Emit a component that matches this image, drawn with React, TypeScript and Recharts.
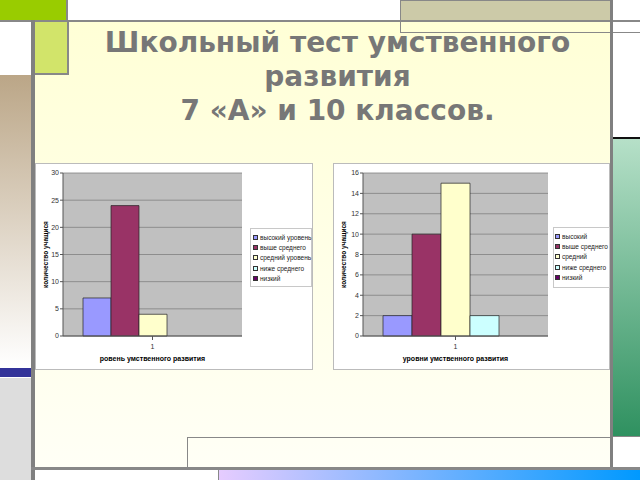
import { BarChart, Bar, XAxis, YAxis, CartesianGrid } from 'recharts'

// 7 «А» class
const levelsA = ['высокий уровень', 'выше среднего', 'средний уровень', 'ниже среднего', 'низкий']
const valuesA = [7, 24, 4, 0, 0]
const ticksA = [0, 5, 10, 15, 20, 25, 30]

// 10 class
const levelsB = ['высокий', 'выше среднего', 'средний', 'ниже среднего', 'низкий']
const valuesB = [2, 10, 15, 2, 0]
const ticksB = [0, 2, 4, 6, 8, 10, 12, 14, 16]

const categories = ['1']
const colors = ['#9999FF', '#993366', '#FFFFCC', '#CCFFFF', '#660066']

const FONT = '"Liberation Sans", Arial, sans-serif'

function toRows(values: number[]) {
  return categories.map((c) => {
    const row: Record<string, string | number> = { name: c }
    values.forEach((v, i) => (row['s' + i] = v))
    return row
  })
}

function LegendBox({ labels, style }: { labels: string[]; style: React.CSSProperties }) {
  return (
    <div
      style={{
        position: 'absolute',
        background: '#fff',
        border: '1px solid #c8c8c8',
        fontFamily: FONT,
        fontSize: 6.5,
        color: '#222',
        padding: '3px 2px',
        boxSizing: 'border-box',
        ...style,
      }}
    >
      {labels.map((l, i) => (
        <div key={l} style={{ display: 'flex', alignItems: 'center', height: 10.4, whiteSpace: 'nowrap' }}>
          <span
            style={{
              display: 'inline-block',
              flexShrink: 0,
              width: 5,
              height: 5,
              boxSizing: 'border-box',
              background: colors[i],
              border: '0.7px solid #333',
              marginRight: 2,
            }}
          />
          {l}
        </div>
      ))}
    </div>
  )
}

function SchoolChart({
  values,
  ticks,
  max,
  xLabel,
  width,
  marginRight,
  yWidth,
}: {
  values: number[]
  ticks: number[]
  max: number
  xLabel: string
  width: number
  marginRight: number
  yWidth: number
}) {
  return (
    <BarChart
      width={width}
      height={207}
      data={toRows(values)}
      margin={{ top: 10, right: marginRight, bottom: 6, left: 0 }}
      barCategoryGap={20}
      barGap={0}
    >
      <CartesianGrid vertical={false} stroke="#808080" fill="#C0C0C0" strokeWidth={0.8} />
      <XAxis
        dataKey="name"
        stroke="#555"
        tickSize={4}
        tickMargin={4}
        height={28}
        tick={{ fontSize: 7, fill: '#333', fontFamily: FONT }}
        label={{
          value: xLabel,
          position: 'insideBottom',
          offset: 3,
          style: { fontSize: 7, fontWeight: 'bold', fill: '#000', fontFamily: FONT },
        }}
      />
      <YAxis
        domain={[0, max]}
        ticks={ticks}
        interval={0}
        width={yWidth}
        stroke="#555"
        tickSize={3}
        tickMargin={1}
        tick={{ fontSize: 7, fill: '#333', fontFamily: FONT }}
        label={{
          value: 'количество учащися',
          angle: -90,
          position: 'insideLeft',
          offset: 11,
          style: { fontSize: 6.5, fontWeight: 'bold', fill: '#000', fontFamily: FONT, textAnchor: 'middle' },
        }}
      />
      {values.map((_, i) => (
        <Bar key={i} dataKey={'s' + i} fill={colors[i]} stroke="#222" strokeWidth={0.7} isAnimationActive={false} />
      ))}
    </BarChart>
  )
}

const abs = (s: React.CSSProperties): React.CSSProperties => ({ position: 'absolute', boxSizing: 'border-box', ...s })

export default function App() {
  return (
    <div style={abs({ left: 0, top: 0, width: 640, height: 480, background: '#fff', overflow: 'hidden' })}>
      {/* panel */}
      <div
        style={abs({
          left: 35,
          top: 22,
          width: 575,
          height: 446,
          background: 'linear-gradient(#FFFFD6, #FFFFF6)',
        })}
      />
      {/* left column */}
      <div style={abs({ left: 0, top: 0, width: 68, height: 21, background: '#99CC00', borderRight: '2px solid #888', borderBottom: '1px solid #888' })} />
      <div style={abs({ left: 0, top: 75, width: 31, height: 292, background: 'linear-gradient(#BBA687, #FFFFFF)' })} />
      <div style={abs({ left: 0, top: 368, width: 31, height: 9, background: '#333399' })} />
      <div style={abs({ left: 0, top: 378, width: 31, height: 102, background: '#DDDDDD' })} />
      <div style={abs({ left: 35, top: 22, width: 34, height: 53, background: '#D2E46A', border: '2px solid #888', borderLeft: 'none', borderTop: 'none' })} />
      {/* top right */}
      <div style={abs({ left: 400, top: 0, width: 211, height: 21, background: '#CCCAA8' })} />
      <div style={abs({ left: 400, top: 0, width: 211, height: 33, border: '1px solid #888' })} />
      <div style={abs({ left: 611, top: 32, width: 29, height: 1, background: '#888' })} />
      {/* right column */}
      <div style={abs({ left: 613, top: 137, width: 27, height: 2, background: '#111' })} />
      <div style={abs({ left: 613, top: 139, width: 27, height: 297, background: 'linear-gradient(#B6E0C8, #2F9160)' })} />
      <div style={abs({ left: 613, top: 436, width: 27, height: 1, background: '#888' })} />
      {/* bottom */}
      <div style={abs({ left: 187, top: 437, width: 424, height: 32, border: '1px solid #888' })} />
      <div style={abs({ left: 218, top: 470, width: 422, height: 10, background: 'linear-gradient(90deg, #E6CCFF, #0099FF)', borderLeft: '1px solid #888' })} />
      {/* gray rules */}
      <div style={abs({ left: 0, top: 20, width: 640, height: 2, background: '#888' })} />
      <div style={abs({ left: 31, top: 20, width: 4, height: 460, background: '#808080' })} />
      <div style={abs({ left: 610, top: 0, width: 3, height: 470, background: '#808080' })} />
      <div style={abs({ left: 31, top: 467, width: 609, height: 3, background: '#888' })} />

      {/* title */}
      <div
        style={abs({
          left: 50,
          top: 26,
          width: 575,
          textAlign: 'center',
          fontFamily: '"DejaVu Sans", sans-serif',
          fontWeight: 'bold',
          fontSize: 28,
          lineHeight: '34px',
          color: '#777',
        })}
      >
        Школьный тест умственного
        <br />
        развития
        <br />7 «А» и 10 классов.
      </div>

      {/* left chart */}
      <div style={abs({ left: 35, top: 163, width: 278, height: 207, background: '#fff', border: '1px solid #bbb' })}>
        <div style={abs({ left: -1, top: -1 })}>
          <SchoolChart values={valuesA} ticks={ticksA} max={30} xLabel="ровень умственного развития" width={278} marginRight={71} yWidth={28} />
        </div>
        <LegendBox labels={levelsA} style={{ left: 214, top: 64, width: 62, height: 59 }} />
      </div>

      {/* right chart */}
      <div style={abs({ left: 333, top: 163, width: 277, height: 207, background: '#fff', border: '1px solid #bbb' })}>
        <div style={abs({ left: -1, top: -1 })}>
          <SchoolChart values={valuesB} ticks={ticksB} max={16} xLabel="уровни умственного развития" width={277} marginRight={62} yWidth={30} />
        </div>
        <LegendBox labels={levelsB} style={{ left: 219, top: 63, width: 57, height: 61, padding: '3px 1px' }} />
      </div>
    </div>
  )
}
